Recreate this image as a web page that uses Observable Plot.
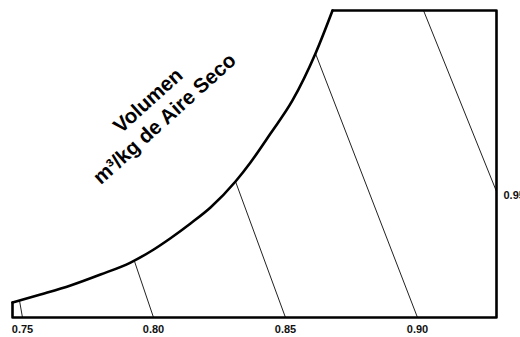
<!DOCTYPE html>
<html>
<head>
<meta charset="utf-8">
<script src="https://cdn.jsdelivr.net/npm/d3@7"></script>
<script src="https://cdn.jsdelivr.net/npm/@observablehq/plot@0.6"></script>
<style>
  html, body { margin: 0; padding: 0; background: #fff; }
  #chart svg { display: block; }
</style>
</head>
<body>
<div id="chart"></div>
<script>
// Dry-bulb temperature (°C) and humidity ratio (g/kg)
const satTemp = [-10.00, -6.24, -2.21, 1.82, 5.85, 8.53, 11.22, 13.91, 16.59, 19.95, 21.96, 24.65, 27.60, 30.69, 32.98];
const satHum  = [1.47, 2.25, 3.13, 4.20, 5.37, 6.45, 7.75, 9.19, 10.75, 13.29, 15.15, 17.98, 21.21, 25.80, 30.00];

// Chart frame
const tempMin = -10, tempMax = 55, humMin = 0, humMax = 30;

// Specific volume lines (m³/kg dry air): start and end points
const volLabels = ["0.75", "0.80", "0.85", "0.90", "0.95"];
const volT1 = [-8.66, 8.94, 26.66, 44.39, 55.00];
const volW1 = [0, 0, 0, 0, 12.31];
const volT2 = [-9.06, 6.38, 19.95, 30.69, 45.20];
const volW2 = [1.66, 5.50, 13.29, 25.80, 30.00];

// Title annotation
const titleText = ["Volumen\nm³/kg de Aire Seco"];
const titleT = [9.2];
const titleW = [20.4];

// Build tables
const saturation = satTemp.map((t, i) => ({t, w: satHum[i]}));
const frame = [
  {t: satTemp[satTemp.length - 1], w: humMax},
  {t: tempMax, w: humMax},
  {t: tempMax, w: humMin},
  {t: tempMin, w: humMin},
  {t: satTemp[0], w: satHum[0]}
];

const vol = volLabels.map((l, i) => ({label: l, t1: volT1[i], w1: volW1[i], t2: volT2[i], w2: volW2[i]}));
const bottomLabels = vol.filter(d => d.w1 === 0);
const sideLabels = vol.filter(d => d.w1 !== 0);
const labelFont = "'Liberation Sans', Arial, sans-serif";

const chart = Plot.plot({
  width: 520,
  height: 337,
  marginLeft: 12,
  marginRight: 24,
  marginTop: 10,
  marginBottom: 20,
  style: {background: "#fff", fontFamily: "'Liberation Sans', Arial, sans-serif"},
  x: {domain: [tempMin, tempMax], axis: null},
  y: {domain: [humMin, humMax], axis: null},
  marks: [
    Plot.link(vol, {x1: "t1", y1: "w1", x2: "t2", y2: "w2", stroke: "#222", strokeWidth: 1}),
    Plot.line(frame, {x: "t", y: "w", stroke: "#000", strokeWidth: 2.6, strokeLinejoin: "round", strokeLinecap: "round"}),
    Plot.line(saturation, {x: "t", y: "w", stroke: "#000", strokeWidth: 2.6, curve: "monotone-x", strokeLinecap: "round"}),
    Plot.text(bottomLabels, {x: "t1", y: "w1", text: "label", dy: 12, fontSize: 11, fontWeight: "bold", fill: "#111", fontFamily: labelFont}),
    Plot.text(sideLabels, {x: "t1", y: "w1", text: "label", dx: 7, dy: 4, textAnchor: "start", fontSize: 11, fontWeight: "bold", fill: "#111", fontFamily: labelFont}),
    Plot.text(titleText, {x: titleT, y: titleW, text: d => d, rotate: -42, fontSize: 20.5, fontWeight: "bold", fill: "#000", lineHeight: 1.2})
  ]
});
document.getElementById("chart").append(chart);
</script>
</body>
</html>
